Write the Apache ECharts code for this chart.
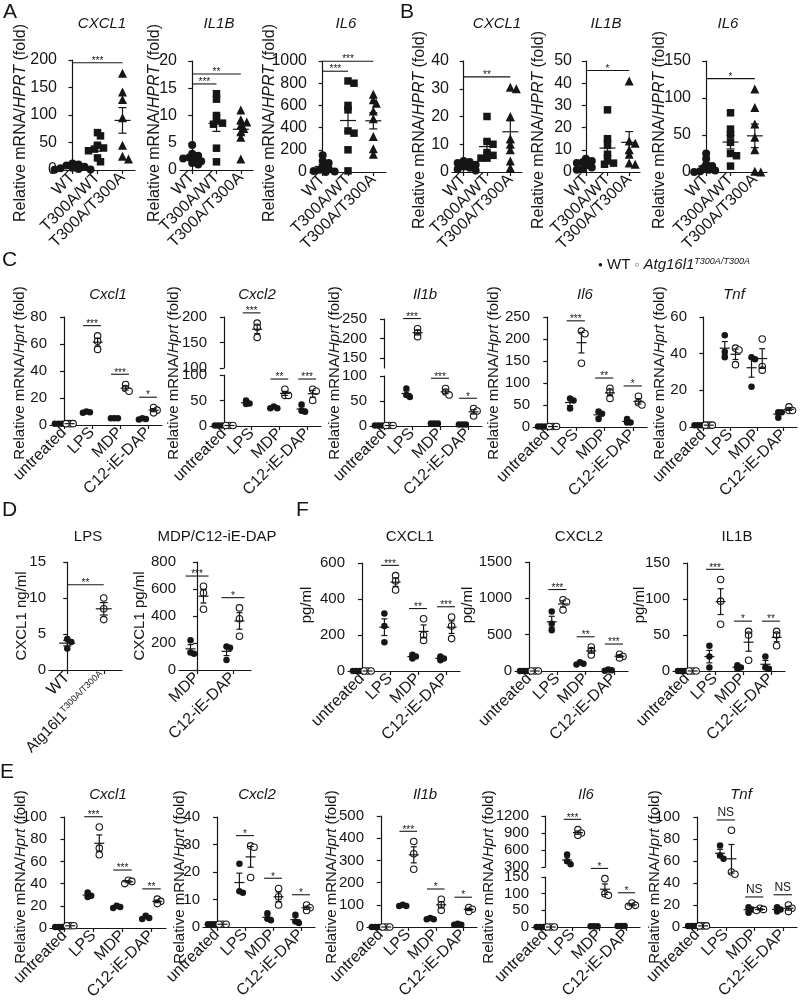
<!DOCTYPE html>
<html><head><meta charset="utf-8">
<script src="https://cdn.jsdelivr.net/npm/echarts@6/dist/echarts.min.js"></script>
<style>html,body{margin:0;padding:0;background:#fff}#c{width:800px;height:1003px}</style>
</head><body><div id="c"></div>
<script>
// ---------------- data ----------------
const catsAB = ['WT', 'T300A/WT', 'T300A/T300A'];
const catsStim = ['untreated', 'LPS', 'MDP', 'C12-iE-DAP'];
const catsD1 = ['WT', 'Atg16l1 T300A/T300A'];
const catsD2 = ['MDP', 'C12-iE-DAP'];

// A: human, groups WT / T300A/WT / T300A/T300A
const A_CXCL1 = [[12, 10, 8, 6, 4, 3, 2, 1, 0.5], [68, 62, 45, 40, 38, 35, 22, 15], [176, 142, 128, 95, 45, 25, 20]];
const A_IL1B = [[4.6, 3, 2.6, 2.3, 2.1, 1.9, 1.6, 1.3, 1], [14, 13, 10, 9, 8.6, 8.4, 4, 1.5], [11, 9.2, 8.8, 8.2, 7.6, 7, 6, 2]];
const A_IL6 = [[150, 100, 80, 50, 30, 20, 10, 5, 0], [820, 800, 600, 560, 370, 350, 200, 10], [700, 650, 620, 550, 480, 320, 210, 160]];
// B
const B_CXCL1 = [[4, 3.6, 3.2, 2.6, 2, 1.5, 1, 0.5], [20, 11, 10, 7, 6, 5, 5], [30.5, 30, 20, 12, 10, 8, 4, 1.5]];
const B_IL1B = [[6, 5, 4.5, 4, 3, 2, 1.5, 1], [28, 15, 12, 8, 5, 4, 3.5], [41, 14, 13, 10, 8, 4, 3.5]];
const B_IL6 = [[25, 18, 10, 8, 5, 3, 2, 1, 0], [80, 58, 50, 40, 25, 22, 8], [112, 87, 65, 47, 30, 1, 0]];
// C: per stimulus, WT and Atg16l1 T300A/T300A
const C_Cxcl1_WT = [[1, 1, 1], [10, 9.5, 9], [5, 5, 5], [5, 4.5, 4]];
const C_Cxcl1_KO = [[1, 1, 1], [66, 62, 56], [30, 27, 25], [13, 11, 9]];
const C_Cxcl2_WT = [[1, 1, 1], [50, 44, 43], [38, 35, 35], [42, 30, 28]];
const C_Cxcl2_KO = [[1, 1, 1], [188, 180, 160], [72, 60, 60], [72, 68, 50]];
const C_Il1b_WT = [[1, 1, 1], [75, 62, 58], [5, 5, 5], [3, 3, 3]];
const C_Il1b_KO = [[1, 1, 1], [225, 215, 205], [75, 68, 62], [35, 30, 20]];
const C_Il6_WT = [[1, 1, 1], [65, 60, 42], [35, 30, 18], [18, 10, 10]];
const C_Il6_KO = [[1, 1, 1], [218, 212, 145], [88, 80, 65], [70, 55, 50]];
const C_Tnf_WT = [[1, 1, 1], [50, 41, 38], [38, 37, 22], [8, 8, 5]];
const C_Tnf_KO = [[1, 1, 1], [43, 42, 34], [48, 33, 31], [11, 9, 9]];
// D
const D_LPS_WT = [4.3, 3.9, 3.0];
const D_LPS_KO = [10, 8.5, 7];
const D_NOD_WT = [[220, 130, 120], [175, 165, 75]];
const D_NOD_KO = [[620, 570, 450], [460, 380, 250]];
// F
const F_CXCL1_WT = [[0, 0, 0], [320, 250, 160], [90, 80, 70], [80, 70, 60]];
const F_CXCL1_KO = [[0, 0, 0], [530, 500, 450], [290, 200, 170], [300, 250, 180]];
const F_CXCL2_WT = [[0, 0, 0], [820, 650, 560], [120, 100, 90], [20, 10, 5]];
const F_CXCL2_KO = [[0, 0, 0], [980, 950, 840], [330, 280, 220], [230, 200, 180]];
const F_IL1B_WT = [[0, 0, 0], [35, 20, 5], [8, 5, 3], [20, 5, 3]];
const F_IL1B_KO = [[0, 0, 0], [127, 97, 65], [55, 50, 15], [55, 50, 35]];
// E
const E_Cxcl1_WT = [[1, 1, 1], [32, 29, 28], [20, 19, 18], [11, 9, 8]];
const E_Cxcl1_KO = [[2, 2, 2], [91, 72, 66], [43, 42, 40], [26, 24, 22]];
const E_Cxcl2_WT = [[1, 1, 1], [23, 13, 12.5], [5, 3, 2.5], [4.5, 2, 1.5]];
const E_Cxcl2_KO = [[1, 1, 1], [29.5, 29, 18], [14, 11, 8], [8, 7, 6]];
const E_Il1b_WT = [[0, 0, 0], [100, 95, 95], [40, 35, 35], [15, 10, 10]];
const E_Il1b_KO = [[0, 0, 0], [385, 330, 260], [125, 100, 75], [88, 80, 70]];
const E_Il6_WT = [[0, 0, 0], [520, 400, 350], [2, 2, 2], [3, 3, 3]];
const E_Il6_KO = [[0, 0, 0], [960, 900, 860], [145, 100, 95], [72, 65, 62]];
const E_Tnf_WT = [[1, 1, 1], [74, 65, 62], [18, 16, 13], [18, 16, 14]];
const E_Tnf_KO = [[1, 1, 1], [88, 50, 48], [17, 16, 15], [20, 17, 14]];

// ---------------- helpers ----------------
const FONT = '"Liberation Sans", Arial, sans-serif';
const INK = '#161616';
const option = { animation: false, backgroundColor: '#fff', grid: [], xAxis: [], yAxis: [], series: [], graphic: [] };

const mean = a => a.reduce((s, v) => s + v, 0) / a.length;
const sem = a => { const m = mean(a); return a.length > 1 ? Math.sqrt(a.reduce((s, v) => s + (v - m) * (v - m), 0) / (a.length - 1)) / Math.sqrt(a.length) : 0; };

function segIndex(segs, v) {
  for (let i = 0; i < segs.length; i++) if (v >= segs[i].min && v <= segs[i].max) return i;
  if (v < segs[0].min) return 0;
  if (v > segs[segs.length - 1].max) return segs.length - 1;
  let k = 0; segs.forEach((s, i) => { if (s.max < v) k = i; }); return k;
}
function valPx(segs, v) {
  const s = segs[segIndex(segs, v)];
  return s.yBot - (v - s.min) / (s.max - s.min) * (s.yBot - s.yTop);
}
function pxVal(segs, px) {
  let k = 0;
  for (let i = 0; i < segs.length; i++) { if (px <= segs[i].yBot) k = i; }
  const s = segs[k];
  return [k, s.min + (s.yBot - px) / (s.yBot - s.yTop) * (s.max - s.min)];
}
function swarm(ys, step, minD) {
  const idx = ys.map((_, i) => i).sort((a, b) => ys[a] - ys[b]);
  const placed = [], offs = [];
  idx.forEach(i => {
    for (let k = 0; k < 60; k++) {
      const dx = k === 0 ? 0 : (k % 2 ? 1 : -1) * Math.ceil(k / 2) * step;
      if (placed.every(p => Math.hypot(p[0] - dx, p[1] - ys[i]) >= minD - 1e-6)) { offs[i] = dx; placed.push([dx, ys[i]]); return; }
    }
    offs[i] = 0;
  });
  return offs;
}
function meanRender(mw, cw) {
  return (params, api) => {
    const x = api.value(0), m = api.value(1), se = api.value(2);
    const c = api.coord([x, m]), t = api.coord([x, m + se]), b = api.coord([x, m - se]);
    const st = { stroke: INK, lineWidth: 1.2 };
    const ch = [{ type: 'line', shape: { x1: c[0] - mw, y1: c[1], x2: c[0] + mw, y2: c[1] }, style: st }];
    if (Math.abs(t[1] - b[1]) > 0.5) {
      ch.push({ type: 'line', shape: { x1: c[0], y1: t[1], x2: c[0], y2: b[1] }, style: st });
      ch.push({ type: 'line', shape: { x1: c[0] - cw, y1: t[1], x2: c[0] + cw, y2: t[1] }, style: st });
      ch.push({ type: 'line', shape: { x1: c[0] - cw, y1: b[1], x2: c[0] + cw, y2: b[1] }, style: st });
    }
    return { type: 'group', children: ch };
  };
}
function sigRender(labels) {
  return (params, api) => {
    const p1 = api.coord([api.value(0), api.value(2)]);
    const p2 = api.coord([api.value(1), api.value(2)]);
    const t = labels[params.dataIndex];
    const ns = t === 'NS';
    return { type: 'group', children: [
      { type: 'line', shape: { x1: p1[0], y1: p1[1], x2: p2[0], y2: p2[1] }, style: { stroke: INK, lineWidth: 1.1 } },
      { type: 'text', x: (p1[0] + p2[0]) / 2, y: p1[1] + (ns ? -1 : 3.5), style: { text: t, fill: INK, fontSize: ns ? 12 : 10, fontFamily: FONT, align: 'center', verticalAlign: 'bottom' } }
    ] };
  };
}

function panel(P) {
  const n = P.cats.length, W = P.x1 - P.x0, pc = W / n;
  const segs = P.segs;
  const lineSt = { color: INK, width: 1.2 };
  segs.forEach((s, si) => {
    const g = option.grid.length;
    option.grid.push({ left: P.x0, top: s.yTop, width: W, height: s.yBot - s.yTop, outerBoundsMode: 'none', containLabel: false });
    if (si === 0) {
      option.xAxis.push({ gridIndex: g, type: 'category', data: P.cats, boundaryGap: true,
        axisLine: { lineStyle: lineSt }, axisTick: { show: true, alignWithLabel: true, length: 4, lineStyle: lineSt },
        axisLabel: { interval: 0, rotate: 45, margin: 5, color: INK, fontSize: P.xfs || 16, fontFamily: FONT, formatter: P.xfmt, rich: P.xrich, hideOverlap: false },
        splitLine: { show: false } });
    }
    option.xAxis.push({ gridIndex: g, type: 'value', min: -0.5, max: n - 0.5, show: false });
    s.xv = option.xAxis.length - 1;
    const ya = { gridIndex: g, type: 'value', min: s.min, max: s.max,
      axisLine: { show: true, lineStyle: lineSt }, axisTick: { show: true, length: 4, lineStyle: lineSt },
      axisLabel: { color: INK, fontSize: P.yfs || 15, fontFamily: FONT, margin: 3, formatter: v => String(v) }, splitLine: { show: false } };
    if (s.ticks) { ya.axisLabel.customValues = s.ticks; ya.axisTick.customValues = s.ticks; } else ya.interval = s.interval;
    option.yAxis.push(ya);
    s.ya = option.yAxis.length - 1;
  });
  const topPx = new Array(n).fill(Infinity);
  P.groups.forEach(G => {
    const perSeg = segs.map(() => []), meanSeg = segs.map(() => []);
    G.data.forEach((vals, ci) => {
      if (!vals || !vals.length) return;
      const ys = vals.map(v => valPx(segs, v));
      const offs = swarm(ys, G.step, G.minD);
      vals.forEach((v, k) => {
        perSeg[segIndex(segs, v)].push([ci + G.off + offs[k] / pc, v]);
        topPx[ci] = Math.min(topPx[ci], ys[k] - G.size / 2);
      });
      const m = mean(vals), se = sem(vals);
      meanSeg[segIndex(segs, m)].push([ci + G.off, m, se]);
      topPx[ci] = Math.min(topPx[ci], valPx(segs, m + se));
    });
    segs.forEach((s, si) => {
      if (perSeg[si].length) option.series.push({ type: 'scatter', xAxisIndex: s.xv, yAxisIndex: s.ya, data: perSeg[si],
        symbol: G.symbol, symbolSize: G.size, silent: true, clip: false, z: 3,
        itemStyle: G.open ? { color: '#fff', borderColor: INK, borderWidth: 1.1, opacity: 1 } : { color: INK, opacity: 1 } });
      if (meanSeg[si].length) option.series.push({ type: 'custom', xAxisIndex: s.xv, yAxisIndex: s.ya, data: meanSeg[si],
        renderItem: meanRender(P.mw, P.cw), silent: true, clip: false, z: 4 });
    });
  });
  const sigSeg = segs.map(() => ({ d: [], l: [] }));
  const bars = [];
  (P.sig || []).forEach(S => {
    const [a, b, txt] = S.length === 2 ? [S[0], S[0], S[1]] : S;
    let px = Math.min(...topPx.slice(a, b + 1)) - (P.sigGap || 7);
    bars.forEach(q => { if (!(b < q.a || a > q.b) && px > q.px - 10) px = q.px - 10; });
    bars.push({ a, b, px });
    const xa = a === b ? a - P.sigHalf : a, xb = a === b ? b + P.sigHalf : b;
    const [k, v] = pxVal(segs, px);
    sigSeg[k].d.push([xa, xb, v]); sigSeg[k].l.push(txt);
  });
  segs.forEach((s, si) => {
    if (sigSeg[si].d.length) option.series.push({ type: 'custom', xAxisIndex: s.xv, yAxisIndex: s.ya, data: sigSeg[si].d,
      renderItem: sigRender(sigSeg[si].l), silent: true, clip: false, z: 5 });
  });
}

function abPanel(x0, x1, yTop, yBot, max, interval, vals, sig) {
  panel({ x0, x1, segs: [{ min: 0, max, interval, yTop, yBot }], cats: catsAB, xfs: 16, yfs: 16,
    groups: vals.map((v, i) => ({ data: catsAB.map((_, j) => j === i ? v : null), off: 0,
      symbol: ['circle', 'rect', 'triangle'][i], size: [8, 7.5, 9][i], step: 3, minD: 4.2 })),
    sig, mw: 8, cw: 4, sigGap: 6 });
}
function stimPanel(x0, x1, segs, wt, ko, sig, cats, off) {
  off = off || 0.2;
  panel({ x0, x1, segs, cats: cats || catsStim,
    groups: [{ data: wt, off: -off, symbol: 'circle', size: 6.5, step: 3.5, minD: 3.5 },
             { data: ko, off: off, symbol: 'circle', size: 6.5, open: true, step: 3.5, minD: 3.5 }],
    sig, mw: 5, cw: 3, sigHalf: 0.32, sigGap: 7 });
}
function txt(x, y, text, o) {
  o = o || {};
  option.graphic.push({ type: 'text', x, y, rotation: o.rot || 0, silent: true, z: 10,
    style: { text, fill: INK, fontSize: o.fs || 15, fontFamily: FONT, fontStyle: o.it ? 'italic' : 'normal',
      align: o.align || 'center', verticalAlign: o.va || 'middle', rich: o.rich } });
}
const yRich = fs => ({ i: { fontStyle: 'italic', fontSize: fs, fontFamily: FONT, fill: INK } });

// ---------------- panels ----------------
abPanel(60, 135, 60, 170, 200, 50, A_CXCL1, [[0, 2, '***']]);
abPanel(180, 253, 61, 170, 20, 5, A_IL1B, [[0, 1, '***'], [0, 2, '**']]);
abPanel(310, 386, 61, 172, 1000, 200, A_IL6, [[0, 1, '***'], [0, 2, '***']]);
abPanel(452, 522, 61, 172, 40, 10, B_CXCL1, [[0, 2, '**']]);
abPanel(575, 640, 61, 172, 50, 10, B_IL1B, [[0, 2, '*']]);
abPanel(694, 767, 61, 172, 150, 50, B_IL6, [[0, 2, '*']]);

stimPanel(50, 162, [{ min: 0, max: 80, interval: 20, yTop: 317, yBot: 425 }], C_Cxcl1_WT, C_Cxcl1_KO, [[1, '***'], [2, '***'], [3, '*']]);
stimPanel(210, 321, [{ min: 0, max: 100, interval: 50, yTop: 375, yBot: 426 }, { min: 100, max: 200, interval: 50, yTop: 317, yBot: 368 }], C_Cxcl2_WT, C_Cxcl2_KO, [[1, '***'], [2, '**'], [3, '***']]);
stimPanel(370, 482, [{ min: 0, max: 100, interval: 50, yTop: 376, yBot: 426 }, { min: 125, max: 250, ticks: [150, 200, 250], yTop: 319, yBot: 368 }], C_Il1b_WT, C_Il1b_KO, [[1, '***'], [2, '***'], [3, '*']]);
stimPanel(533, 647, [{ min: 0, max: 250, interval: 50, yTop: 317, yBot: 427 }], C_Il6_WT, C_Il6_KO, [[1, '***'], [2, '**'], [3, '*']]);
stimPanel(690, 797, [{ min: 0, max: 60, interval: 20, yTop: 317, yBot: 427 }], C_Tnf_WT, C_Tnf_KO, []);

panel({ x0: 49, x1: 122, segs: [{ min: 0, max: 15, interval: 5, yTop: 562, yBot: 670 }], cats: catsD1,
  xfmt: v => v === 'WT' ? 'WT' : '{n|Atg16l1}{s|T300A/T300A}',
  xrich: { n: { fontSize: 15, fontFamily: FONT, fill: INK }, s: { fontSize: 9, fontFamily: FONT, fill: INK, verticalAlign: 'top', padding: [0, 0, 8, 0] } },
  groups: [{ data: [D_LPS_WT, null], off: 0, symbol: 'circle', size: 6.5, step: 4, minD: 4.5 },
           { data: [null, D_LPS_KO], off: 0, symbol: 'circle', size: 6.5, open: true, step: 4, minD: 4.5 }],
  sig: [[0, 1, '**']], mw: 8, cw: 4, sigGap: 10 });
stimPanel(179, 251, [{ min: 0, max: 800, interval: 200, yTop: 562, yBot: 670 }], D_NOD_WT, D_NOD_KO, [[0, '***'], [1, '*']], catsD2, 0.18);

stimPanel(348, 460, [{ min: 0, max: 600, interval: 200, yTop: 563, yBot: 671 }], F_CXCL1_WT, F_CXCL1_KO, [[1, '***'], [2, '**'], [3, '***']]);
stimPanel(515, 628, [{ min: 0, max: 1500, interval: 500, yTop: 562, yBot: 671 }], F_CXCL2_WT, F_CXCL2_KO, [[1, '***'], [2, '**'], [3, '***']]);
stimPanel(673, 785, [{ min: 0, max: 150, interval: 50, yTop: 563, yBot: 671 }], F_IL1B_WT, F_IL1B_KO, [[1, '***'], [2, '*'], [3, '**']]);

stimPanel(50, 166, [{ min: 0, max: 100, interval: 20, yTop: 817, yBot: 928 }], E_Cxcl1_WT, E_Cxcl1_KO, [[1, '***'], [2, '***'], [3, '**']]);
stimPanel(203, 315, [{ min: 0, max: 40, interval: 10, yTop: 817, yBot: 927 }], E_Cxcl2_WT, E_Cxcl2_KO, [[1, '*'], [2, '*'], [3, '*']]);
stimPanel(367, 477, [{ min: 0, max: 500, interval: 100, yTop: 816, yBot: 927 }], E_Il1b_WT, E_Il1b_KO, [[1, '***'], [2, '*'], [3, '*']]);
stimPanel(532, 640, [{ min: 0, max: 150, interval: 50, yTop: 877, yBot: 927 }, { min: 300, max: 1200, interval: 300, yTop: 816, yBot: 867 }], E_Il6_WT, E_Il6_KO, [[1, '***'], [2, '*'], [3, '*']]);
stimPanel(683, 797, [{ min: 0, max: 100, interval: 20, yTop: 817, yBot: 927 }], E_Tnf_WT, E_Tnf_KO, [[1, 'NS'], [2, 'NS'], [3, 'NS']]);

// ---------------- texts ----------------
[['A', 3, 2], ['B', 400, 2], ['C', 2, 250], ['D', 2, 500], ['F', 296, 500], ['E', 0, 762]].forEach(([t, x, y]) => txt(x, y, t, { fs: 21, align: 'left', va: 'top' }));
[['CXCL1', 102], ['IL1B', 219], ['IL6', 346], ['CXCL1', 497], ['IL1B', 606], ['IL6', 728]].forEach(([t, x]) => txt(x, 24, t, { it: true }));
[['Cxcl1', 108], ['Cxcl2', 257], ['Il1b', 425], ['Il6', 585], ['Tnf', 734]].forEach(([t, x]) => txt(x, 295, t, { it: true }));
[['Cxcl1', 108], ['Cxcl2', 257], ['Il1b', 425], ['Il6', 586], ['Tnf', 741]].forEach(([t, x]) => txt(x, 795, t, { it: true }));
[['LPS', 88], ['MDP/C12-iE-DAP', 217], ['CXCL1', 410], ['CXCL2', 579], ['IL1B', 737]].forEach(([t, x]) => txt(x, 537, t));
const R = Math.PI / 2;
[[21, 123], [155, 123], [270, 123], [420, 130], [539, 130], [660, 130]].forEach(([x, y]) => txt(x, y, 'Relative mRNA/{i|HPRT} (fold)', { rot: R, fs: 16, rich: yRich(16) }));
[[20, 373], [174, 373], [335, 373], [494, 373], [660, 373], [21, 877], [180, 877], [332, 877], [489, 877], [655, 877]].forEach(([x, y]) => txt(x, y, 'Relative mRNA/{i|Hprt} (fold)', { rot: R, fs: 15, rich: yRich(15) }));
txt(22, 616, 'CXCL1 ng/ml', { rot: R });
txt(140, 616, 'CXCL1 pg/ml', { rot: R });
[[307, 605], [468, 605], [640, 605]].forEach(([x, y]) => txt(x, y, 'pg/ml', { rot: R }));
txt(598, 265, '{d|●} WT {o|○} {i|Atg16l1}{s|T300A/T300A}', { align: 'left', rich: {
  d: { fontSize: 8, fill: INK }, o: { fontSize: 8, fill: INK },
  i: { fontStyle: 'italic', fontSize: 15, fontFamily: FONT, fill: INK },
  s: { fontStyle: 'italic', fontSize: 9, fontFamily: FONT, fill: INK, verticalAlign: 'top', padding: [0, 0, 8, 0] } } });

const chart = echarts.init(document.getElementById('c'), null, { renderer: 'canvas', width: 800, height: 1003 });
chart.setOption(option);
</script></body></html>
